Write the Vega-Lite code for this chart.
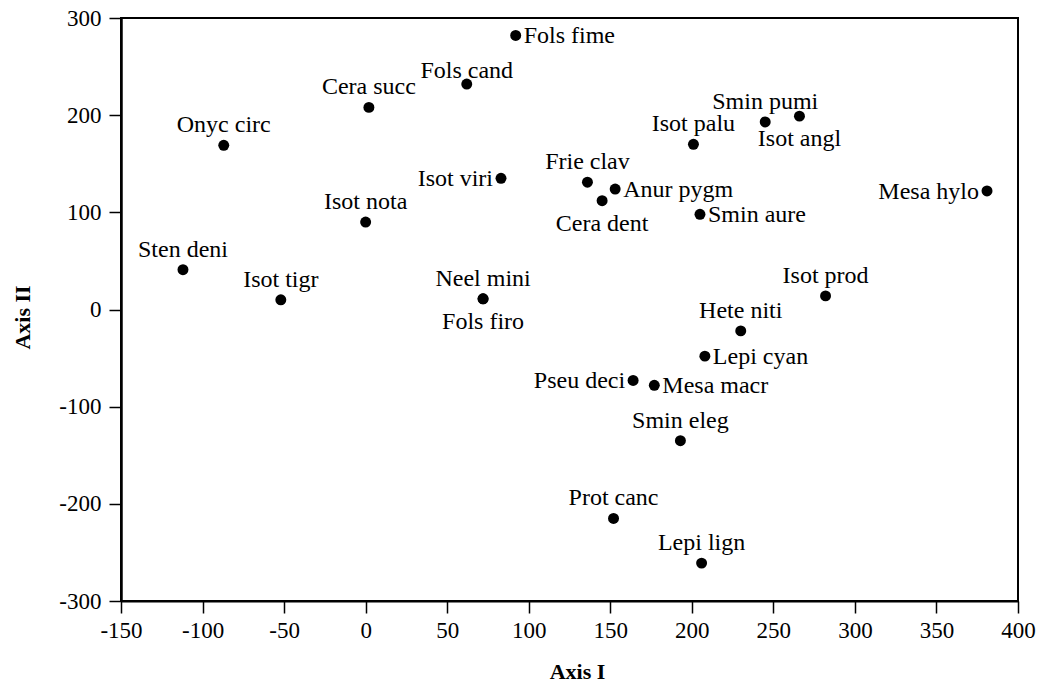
{
  "$schema": "https://vega.github.io/schema/vega-lite/v6.json",
  "width": 897,
  "height": 583,
  "autosize": {"type": "none"},
  "padding": {"left": 121, "top": 18, "right": 33, "bottom": 85},
  "background": "white",
  "config": {"view": {"stroke": "black", "strokeWidth": 2}, "font": "Liberation Serif"},
  "data": {"values": [
    {"name": "Fols fime", "a1": 92, "a2": 282, "pos": "right"},
    {"name": "Fols cand", "a1": 62, "a2": 232, "pos": "aboveclose"},
    {"name": "Cera succ", "a1": 2, "a2": 208, "pos": "above"},
    {"name": "Onyc circ", "a1": -87, "a2": 169, "pos": "above"},
    {"name": "Isot viri", "a1": 83, "a2": 135, "pos": "left"},
    {"name": "Isot nota", "a1": 0, "a2": 90, "pos": "above"},
    {"name": "Sten deni", "a1": -112, "a2": 41, "pos": "above"},
    {"name": "Isot tigr", "a1": -52, "a2": 10, "pos": "above"},
    {"name": "Neel mini", "a1": 72, "a2": 11, "pos": "above"},
    {"name": "Fols firo", "a1": 72, "a2": 11, "pos": "below"},
    {"name": "Frie clav", "a1": 136, "a2": 131, "pos": "above"},
    {"name": "Anur pygm", "a1": 153, "a2": 124, "pos": "right"},
    {"name": "Cera dent", "a1": 145, "a2": 112, "pos": "below"},
    {"name": "Isot palu", "a1": 201, "a2": 170, "pos": "above"},
    {"name": "Smin pumi", "a1": 245, "a2": 193, "pos": "above"},
    {"name": "Isot angl", "a1": 266, "a2": 199, "pos": "below"},
    {"name": "Smin aure", "a1": 205, "a2": 98, "pos": "right"},
    {"name": "Mesa hylo", "a1": 381, "a2": 122, "pos": "left"},
    {"name": "Isot prod", "a1": 282, "a2": 14, "pos": "above"},
    {"name": "Hete niti", "a1": 230, "a2": -22, "pos": "above"},
    {"name": "Lepi cyan", "a1": 208, "a2": -48, "pos": "right"},
    {"name": "Pseu deci", "a1": 164, "a2": -73, "pos": "left"},
    {"name": "Mesa macr", "a1": 177, "a2": -78, "pos": "right"},
    {"name": "Smin eleg", "a1": 193, "a2": -135, "pos": "above"},
    {"name": "Prot canc", "a1": 152, "a2": -215, "pos": "above"},
    {"name": "Lepi lign", "a1": 206, "a2": -261, "pos": "above"}
  ]},
  "encoding": {
    "x": {
      "field": "a1", "type": "quantitative",
      "scale": {"domain": [-150, 400], "nice": false, "zero": false},
      "axis": {
        "values": [-150, -100, -50, 0, 50, 100, 150, 200, 250, 300, 350, 400],
        "labelExpr": "'' + datum.value",
        "grid": false, "domainColor": "black", "domainWidth": 2,
        "tickColor": "black", "tickSize": 12, "tickWidth": 1.5,
        "labelFont": "Liberation Serif", "labelFontSize": 23, "labelColor": "black", "labelPadding": 6,
        "labelFlush": false, "labelOverlap": false,
        "title": "Axis I", "titleFont": "Liberation Serif", "titleFontSize": 22, "titleFontWeight": "bold", "titleColor": "black",
        "titleX": 456, "titleY": 77, "titleBaseline": "alphabetic", "titleAlign": "center"
      }
    },
    "y": {
      "field": "a2", "type": "quantitative",
      "scale": {"domain": [-300, 300], "nice": false, "zero": false},
      "axis": {
        "values": [-300, -200, -100, 0, 100, 200, 300],
        "labelExpr": "'' + datum.value",
        "grid": false, "domainColor": "black", "domainWidth": 2.5,
        "tickColor": "black", "tickSize": 12, "tickWidth": 1.5,
        "labelFont": "Liberation Serif", "labelFontSize": 23, "labelColor": "black", "labelPadding": 8,
        "labelFlush": false, "labelOverlap": false,
        "title": "Axis II", "titleFont": "Liberation Serif", "titleFontSize": 22, "titleFontWeight": "bold", "titleColor": "black",
        "titleX": -99, "titleY": 299, "titleAngle": 270, "titleBaseline": "middle", "titleAlign": "center"
      }
    }
  },
  "layer": [
    {"mark": {"type": "point", "filled": true, "shape": "circle", "size": 120, "color": "black", "opacity": 1}},
    {"transform": [{"filter": "datum.pos == 'above'"}],
     "mark": {"type": "text", "font": "Liberation Serif", "fontSize": 24, "color": "black", "align": "center", "baseline": "alphabetic", "dy": -13},
     "encoding": {"text": {"field": "name"}}},
    {"transform": [{"filter": "datum.pos == 'aboveclose'"}],
     "mark": {"type": "text", "font": "Liberation Serif", "fontSize": 24, "color": "black", "align": "center", "baseline": "alphabetic", "dy": -6},
     "encoding": {"text": {"field": "name"}}},
    {"transform": [{"filter": "datum.pos == 'below'"}],
     "mark": {"type": "text", "font": "Liberation Serif", "fontSize": 24, "color": "black", "align": "center", "baseline": "alphabetic", "dy": 30},
     "encoding": {"text": {"field": "name"}}},
    {"transform": [{"filter": "datum.pos == 'right'"}],
     "mark": {"type": "text", "font": "Liberation Serif", "fontSize": 24, "color": "black", "align": "left", "baseline": "alphabetic", "dx": 8, "dy": 8},
     "encoding": {"text": {"field": "name"}}},
    {"transform": [{"filter": "datum.pos == 'left'"}],
     "mark": {"type": "text", "font": "Liberation Serif", "fontSize": 24, "color": "black", "align": "right", "baseline": "alphabetic", "dx": -8, "dy": 8},
     "encoding": {"text": {"field": "name"}}}
  ]
}
